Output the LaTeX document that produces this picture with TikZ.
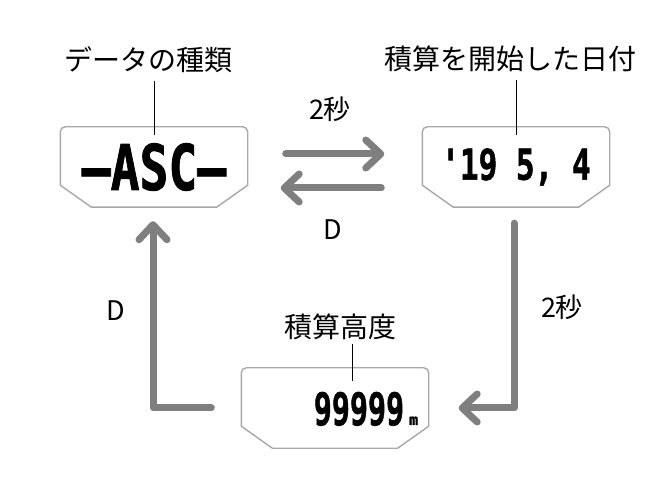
\documentclass[tikz,border=0pt]{standalone}
\usepackage{fontspec}
\usepackage{graphicx}
\usetikzlibrary{arrows.meta}
\newfontfamily\jpfont{Noto Sans CJK JP}
\newfontfamily\segfont{DejaVu Sans Mono}[BoldFeatures={FakeBold=1.5}]
\definecolor{lcdGray}{HTML}{A8A8A8}
\definecolor{flowGray}{HTML}{7F7F7F}
\newcommand{\lcdframe}[1]{%
  \draw[frame] ([yshift=22pt]#1.south west) [rounded corners=5pt] -- (#1.north west)
    -- (#1.north east) [sharp corners] -- ([yshift=22pt]#1.south east)
    -- ([xshift=-31pt]#1.south east) -- ([xshift=31pt]#1.south west) -- cycle;}

\begin{document}
\begin{tikzpicture}[x=1pt, y=1pt,
    lcd/.style={rectangle, minimum width=187pt, minimum height=80pt, inner sep=0pt},
    frame/.style={draw=lcdGray, line width=1.4pt},
    readout/.style={font=\segfont\bfseries, inner sep=0pt},
    head/.style={font=\jpfont\fontsize{28}{30}\selectfont, inner sep=0pt},
    lbl/.style={font=\jpfont\fontsize{27}{29}\selectfont, inner sep=0pt},
    tick/.style={line width=1pt, black},
    flow/.style={line width=7pt, flowGray, line cap=round, line join=round,
                 -{Straight Barb[length=15pt, width=28pt, round]}}
  ]
  \useasboundingbox (0,0) rectangle (667,485);

  \node[lcd] (lcdA) at (154,318) {};
  \node[lcd] (lcdB) at (516,318) {};
  \node[lcd] (lcdC) at (335,77)  {};
  \lcdframe{lcdA}
  \lcdframe{lcdB}
  \lcdframe{lcdC}

  \node[readout] (kind) at (154,318)
    {\fontsize{48}{48}\selectfont\scalebox{1}[1.31]{–ASC–}};
  \node[readout] (date) at (516,318)
    {\fontsize{31}{31}\selectfont\scalebox{1}[1.37]{'19 5, 4}};
  \node[readout, anchor=base] (alt) at (366,60)
    {\fontsize{30}{30}\selectfont\scalebox{1}[1.5]{99999}\,\fontsize{15}{15}\selectfont m};

  \node[head] (kindlbl) at (148,425) {データの種類};
  \node[head] (datelbl) at (510,426) {積算を開始した日付};
  \node[head] (altlbl)  at (340,158) {積算高度};
  \draw[tick] (kindlbl.south -| lcdA) ++(0,-8pt) -- ([yshift=-8pt]lcdA.north);
  \draw[tick] (datelbl.south -| lcdB) ++(0,-8pt) -- ([yshift=-8pt]lcdB.north);
  \draw[tick] ([xshift=12pt,yshift=-4pt]altlbl.south) -- ([xshift=17pt,yshift=-13pt]lcdC.north);

  \draw[flow] ([shift={(38pt,13pt)}]lcdA.east) -- ([shift={(-38pt,13pt)}]lcdB.west);
  \draw[flow] ([shift={(-41pt,-21pt)}]lcdB.west) -- ([shift={(33pt,-21pt)}]lcdA.east);
  \draw[flow] ([xshift=-2pt,yshift=-16pt]lcdB.south) |- ([xshift=30pt]lcdC.east);
  \draw[flow] ([xshift=-30pt]lcdC.west) -| ([xshift=-1pt,yshift=-14pt]lcdA.south);

  \node[lbl] (fwd)  at (330,376) {2秒};
  \node[lbl] (back) at (333,255) {D};
  \node[lbl] (down) at (562,178) {2秒};
  \node[lbl] (up)   at (116,174) {D};
\end{tikzpicture}
\end{document}
